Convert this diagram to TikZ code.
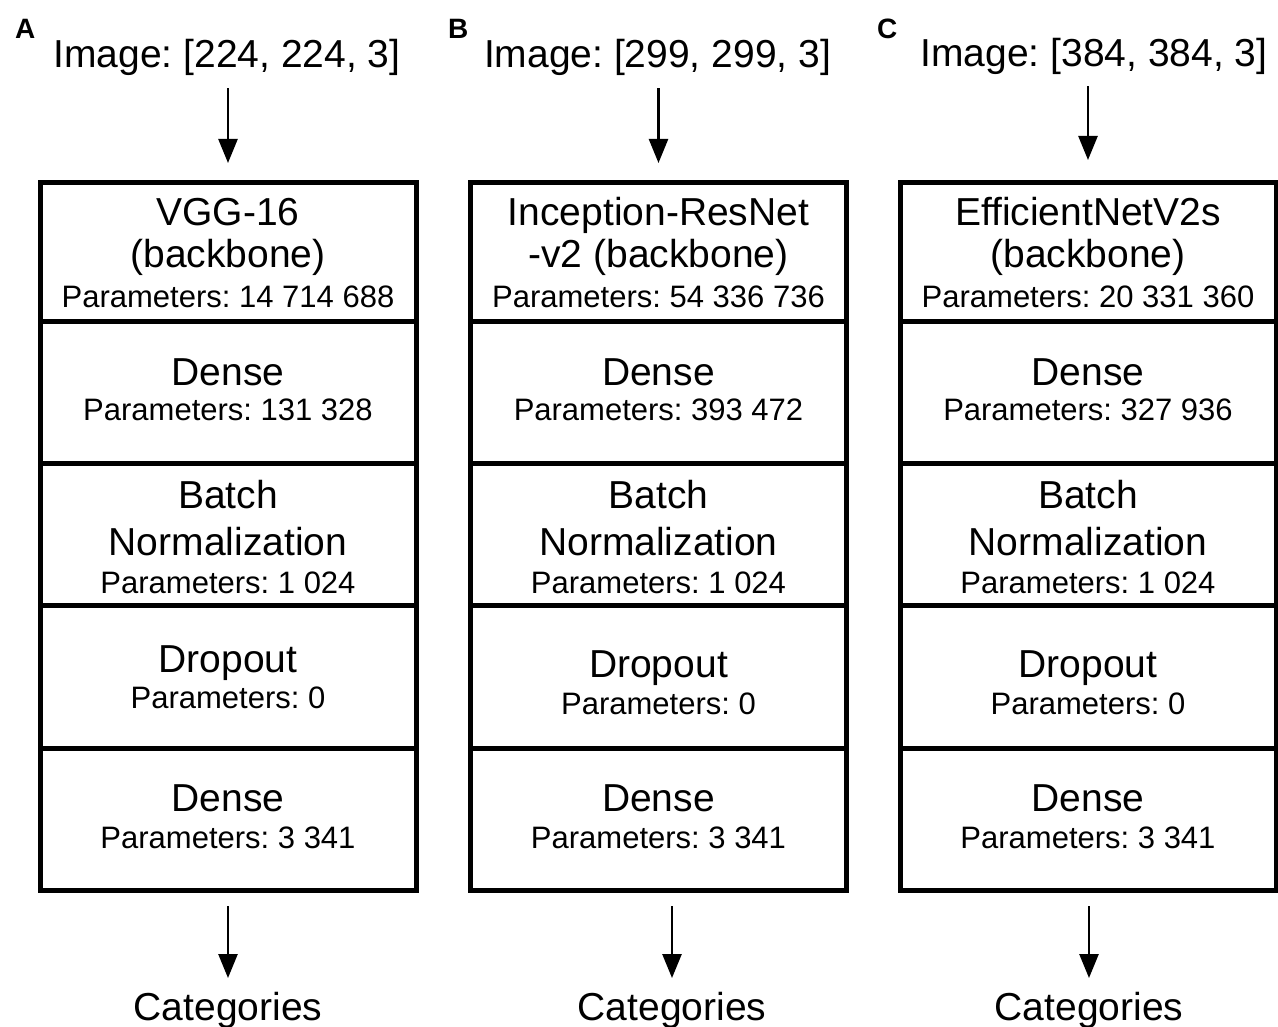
\documentclass[tikz,border=0pt]{standalone}
\usepackage{fontspec}
\setmainfont{Liberation Sans}
\usetikzlibrary{arrows.meta}
\frenchspacing
\begin{document}
\begin{tikzpicture}[x=1pt,y=1pt,
  cell/.style={draw=black, line width=5pt, minimum width=376pt, minimum height=#1, inner sep=0pt, fill=white},
  big/.style={font=\fontsize{39}{41}\selectfont, anchor=base, inner sep=0pt},
  small/.style={font=\fontsize{31}{33}\selectfont, anchor=base, inner sep=0pt},
  panel/.style={font=\fontsize{28}{30}\selectfont\bfseries, anchor=base west, inner sep=0pt},
  arr/.style={line width=2.5pt, -{Triangle[length=24pt,width=19pt]}}
]
\useasboundingbox (0,0) rectangle (1278,-1027);
\fill[white] (0,0) rectangle (1278,-1027);

% panel letters
\node[panel] (pA) at (15,-39) {A};
\node[panel] (pB) at (448,-39) {B};
\node[panel] (pC) at (877,-39) {C};

% input labels
\node[big] (imgA) at (227,-68) {Image: [224, 224, 3]};
\node[big] (imgB) at (657.5,-68) {Image: [299, 299, 3]};
\node[big] (imgC) at (1094,-67) {Image: [384, 384, 3]};

% cells column A
\node[cell=139pt] (a1) at (228,-252.5) {};
\node[cell=141pt] (a2) at (228,-392.5) {};
\node[cell=142pt] (a3) at (228,-534) {};
\node[cell=143pt] (a4) at (228,-676.5) {};
\node[cell=142pt] (a5) at (228,-819) {};
% cells column B
\node[cell=139pt] (b1) at (658.5,-252.5) {};
\node[cell=141pt] (b2) at (658.5,-392.5) {};
\node[cell=142pt] (b3) at (658.5,-534) {};
\node[cell=143pt] (b4) at (658.5,-676.5) {};
\node[cell=142pt] (b5) at (658.5,-819) {};
% cells column C
\node[cell=139pt] (c1) at (1088,-252.5) {};
\node[cell=141pt] (c2) at (1088,-392.5) {};
\node[cell=142pt] (c3) at (1088,-534) {};
\node[cell=143pt] (c4) at (1088,-676.5) {};
\node[cell=142pt] (c5) at (1088,-819) {};

% texts column A
\node[big] (a1t1) at (228,-226) {VGG-16};
\node[big] (a1t2) at (228,-268) {(backbone)};
\node[small] (a1p) at (228,-308) {Parameters: 14 714 688};
\node[big] (a2t) at (228,-385) {Dense};
\node[small] (a2p) at (228,-420) {Parameters: 131 328};
\node[big] (a3t1) at (228,-508) {Batch};
\node[big] (a3t2) at (228,-555) {Normalization};
\node[small] (a3p) at (228,-593) {Parameters: 1 024};
\node[big] (a4t) at (228,-672) {Dropout};
\node[small] (a4p) at (228,-708) {Parameters: 0};
\node[big] (a5t) at (228,-811) {Dense};
\node[small] (a5p) at (228,-848) {Parameters: 3 341};

% texts column B
\node[big] (b1t1) at (658.5,-226) {Inception-ResNet};
\node[big] (b1t2) at (658.5,-268) {-v2 (backbone)};
\node[small] (b1p) at (658.5,-308) {Parameters: 54 336 736};
\node[big] (b2t) at (658.5,-385) {Dense};
\node[small] (b2p) at (658.5,-420) {Parameters: 393 472};
\node[big] (b3t1) at (658.5,-508) {Batch};
\node[big] (b3t2) at (658.5,-555) {Normalization};
\node[small] (b3p) at (658.5,-593) {Parameters: 1 024};
\node[big] (b4t) at (658.5,-677) {Dropout};
\node[small] (b4p) at (658.5,-714) {Parameters: 0};
\node[big] (b5t) at (658.5,-811) {Dense};
\node[small] (b5p) at (658.5,-848) {Parameters: 3 341};

% texts column C
\node[big] (c1t1) at (1088,-226) {EfficientNetV2s};
\node[big] (c1t2) at (1088,-268) {(backbone)};
\node[small] (c1p) at (1088,-308) {Parameters: 20 331 360};
\node[big] (c2t) at (1088,-385) {Dense};
\node[small] (c2p) at (1088,-420) {Parameters: 327 936};
\node[big] (c3t1) at (1088,-508) {Batch};
\node[big] (c3t2) at (1088,-555) {Normalization};
\node[small] (c3p) at (1088,-593) {Parameters: 1 024};
\node[big] (c4t) at (1088,-677) {Dropout};
\node[small] (c4p) at (1088,-714) {Parameters: 0};
\node[big] (c5t) at (1088,-811) {Dense};
\node[small] (c5p) at (1088,-848) {Parameters: 3 341};

% outputs
\node[big] (catA) at (228,-1020) {Categories};
\node[big] (catB) at (672,-1020) {Categories};
\node[big] (catC) at (1089,-1020) {Categories};

% arrows
\draw[arr, shorten <=11.8pt, shorten >=17.5pt] (imgA.south -| a1.north) -- (a1.north);
\draw[arr, shorten <=11.8pt, shorten >=17.5pt] (imgB.south -| b1.north) -- (b1.north);
\draw[arr, shorten <=10.8pt, shorten >=20.5pt] (imgC.south -| c1.north) -- (c1.north);

\draw[arr, shorten <=13.5pt, shorten >=13.5pt] (a5.south -| catA.north) -- (catA.north);
\draw[arr, shorten <=13.5pt, shorten >=13.5pt] (b5.south -| catB.north) -- (catB.north);
\draw[arr, shorten <=13.5pt, shorten >=13.5pt] (c5.south -| catC.north) -- (catC.north);
\end{tikzpicture}
\end{document}
